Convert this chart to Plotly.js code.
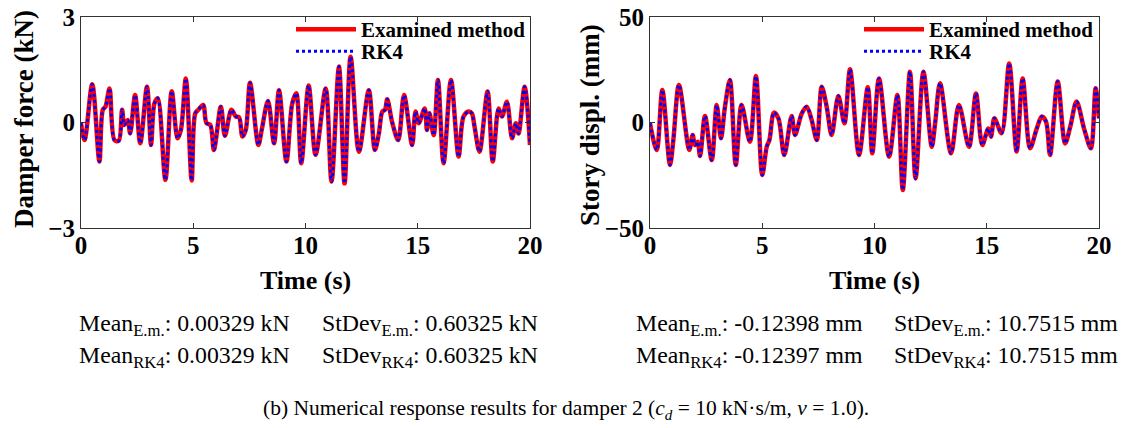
<!DOCTYPE html>
<html><head><meta charset="utf-8">
<script src="https://cdn.plot.ly/plotly-3.0.1.min.js"></script>
<style>body{margin:0;padding:0;background:#fff}#c{width:1131px;height:428px}</style>
</head><body><div id="c"></div>
<script>
// Damper force (kN) vs time (s)
const timeForce = [0,0.16,0.5,0.82,0.97,1.09,1.27,1.49,1.68,1.83,1.93,2.08,2.19,2.41,2.64,2.94,3.12,3.27,3.42,3.76,4.04,4.30,4.45,4.67,4.93,5.09,5.24,5.44,5.59,5.76,5.92,6.23,6.41,6.70,6.90,7.04,7.19,7.34,7.53,7.90,8.05,8.33,8.60,8.82,9.15,9.41,9.59,9.81,10.14,10.45,10.90,11.16,11.49,11.74,12.01,12.38,12.82,13.09,13.27,13.42,13.54,13.64,13.87,14.13,14.39,14.75,14.90,15.04,15.31,15.41,15.52,15.71,15.90,16.15,16.48,16.82,17.04,17.27,17.41,17.53,17.75,18.11,18.34,18.60,18.75,18.97,19.20,19.37,19.49,19.76,20.0];
const forceEM = [-0.02,-0.50,1.09,-1.11,0.36,0.45,0.97,-0.50,-0.52,0.36,-0.07,0.07,-0.31,0.78,-0.59,1.02,-0.64,0.54,0.69,-1.63,0.89,-0.45,-0.21,1.25,-1.65,0.26,0.37,0.50,-0.02,-0.07,-0.78,0.45,-0.38,0.36,0.17,0.15,-0.40,-0.21,1.13,-0.64,-0.21,0.61,-0.59,0.92,-1.11,0.54,0.83,-1.16,1.05,-0.92,0.97,-1.68,1.59,-1.73,1.87,-0.83,0.92,-0.78,-0.31,0.31,0.36,0.66,-0.02,-0.50,0.78,-0.64,0.31,-0.02,0.40,-0.21,0.26,-0.36,1.21,-1.16,1.21,-0.97,0.17,0.31,0.26,-0.12,-0.83,0.88,-1.11,0.40,0.17,0.59,-0.45,-0.02,-0.31,1.02,-0.64];
const forceRK4 = forceEM.slice();

// Story displacement (mm) vs time (s)
const timeDispl = [0,0.30,0.55,0.89,1.04,1.29,1.75,1.90,2.0,2.12,2.23,2.45,2.75,2.97,3.16,3.34,3.56,3.82,4.08,4.45,4.72,5.00,5.20,5.32,5.52,5.72,5.98,6.31,6.46,6.76,6.98,7.20,7.43,7.65,7.87,8.09,8.39,8.66,8.91,9.31,9.70,9.90,10.20,10.65,11.02,11.26,11.58,11.83,12.18,12.55,12.70,12.92,13.41,13.76,14.21,14.52,14.80,15.07,15.19,15.34,15.66,16.0,16.33,16.60,16.93,17.23,17.45,17.64,17.82,18.16,18.49,18.72,19.0,19.35,19.64,19.85,20.0];
const displEM = [-0.4,-13.0,15.4,-20.1,-8.3,17.8,-13.0,-5.9,-10.7,-9.1,-15.9,3.1,-17.8,8.3,-7.5,7.5,20.1,-20.1,8.3,-9.1,22.0,-24.9,-11.5,-8.3,4.7,2.0,-15.4,3.1,-5.9,4.3,7.5,1.2,-8.3,17.0,7.5,-5.9,12.6,-0.4,25.2,-15.4,16.7,-14.6,20.9,-16.2,13.0,-32.0,24.1,-26.5,24.1,-11.5,-0.4,18.6,-14.6,8.3,-11.5,13.8,-10.7,-2.8,-6.7,2.0,-5.1,28.0,-13.8,20.9,-12.2,-2.8,2.8,0.4,-15.4,19.4,-9.9,-2.0,9.9,-3.5,-12.2,16.2,2.0];
const displRK4 = displEM.slice();

const xTicks = [0,5,10,15,20];
const seriesNames = ['Examined method','RK4'];

const FONT = "'Liberation Serif'";
function red(x,y,xa,ya,lg){return {x:x,y:y,xaxis:xa,yaxis:ya,type:'scatter',mode:'lines',name:seriesNames[0],legend:lg,line:{color:'#ff0000',width:4.5,shape:'spline',smoothing:0.9}};}
function blue(x,y,xa,ya,lg){return {x:x,y:y,xaxis:xa,yaxis:ya,type:'scatter',mode:'lines',name:seriesNames[1],legend:lg,line:{color:'#0000ff',width:3,dash:'dot',shape:'spline',smoothing:0.9}};}

const data = [
  red(timeForce,forceEM,'x','y','legend'), blue(timeForce,forceRK4,'x','y','legend3'),
  red(timeDispl,displEM,'x2','y2','legend2'), blue(timeDispl,displRK4,'x2','y2','legend4')
];

const y0 = 1-228/428, y1 = 1-17/428;
function xax(d,anchor){return {domain:d,anchor:anchor,range:[0,20],tickvals:xTicks,ticks:'inside',ticklen:5,tickcolor:'#333',mirror:'ticks',showline:true,linecolor:'#333',linewidth:1,showgrid:false,zeroline:false,ticklabelstandoff:-5,tickfont:{family:FONT,size:25,color:'#000',weight:'bold'},automargin:false};}
function yax(r,tv,anchor){return {domain:[y0,y1],range:r,tickvals:tv,ticks:'inside',ticklen:5,tickcolor:'#333',mirror:'ticks',showline:true,linecolor:'#333',linewidth:1,showgrid:false,zeroline:false,anchor:anchor,tickfont:{family:FONT,size:25,color:'#000',weight:'bold'},automargin:false};}

function leg(x,ytop){return {x:x,y:1-ytop/428,xref:'paper',yref:'paper',xanchor:'left',yanchor:'top',bgcolor:'rgba(0,0,0,0)',borderwidth:0,itemwidth:60,font:{family:FONT,size:21,color:'#000',weight:'bold'}};}

const ann=[];
function txt(x,y,t,size,anchor,extra){ann.push(Object.assign({xref:'paper',yref:'paper',x:x/1131,y:1-y/428,text:t,showarrow:false,xanchor:anchor||'left',yanchor:'middle',font:{family:FONT,size:size||23.8,color:'#000'}},extra||{}));}
// axis titles
txt(305.5,280,'<b>Time (s)</b>',26,'center');
txt(874.5,280,'<b>Time (s)</b>',26,'center');
txt(24,119,'<b>Damper force (kN)</b>',27,'center',{textangle:-90});
txt(590,125,'<b>Story displ. (mm)</b>',27,'center',{textangle:-90});
// statistics
txt(77,325,'Mean<sub>E.m.</sub>: 0.00329 kN');
txt(320,325,'StDev<sub>E.m.</sub>: 0.60325 kN');
txt(77,357,'Mean<sub>RK4</sub>: 0.00329 kN');
txt(320,357,'StDev<sub>RK4</sub>: 0.60325 kN');
txt(634,325,'Mean<sub>E.m.</sub>: -0.12398 mm');
txt(892,325,'StDev<sub>E.m.</sub>: 10.7515 mm');
txt(634,357,'Mean<sub>RK4</sub>: -0.12397 mm');
txt(892,357,'StDev<sub>RK4</sub>: 10.7515 mm');
txt(566,409,'(b) Numerical response results for damper 2 (<i>c<sub>d</sub></i> = 10 kN·s/m, <i>v</i> = 1.0).',21.5,'center');

const layout = {
  width:1131,height:428,margin:{l:0,r:0,t:0,b:0},paper_bgcolor:'#fff',plot_bgcolor:'#fff',
  showlegend:true,font:{family:FONT},
  xaxis:xax([81/1131,530/1131],'y'), yaxis:yax([-3,3],[-3,0,3],'x'),
  xaxis2:xax([650/1131,1099/1131],'y2'), yaxis2:yax([-50,50],[-50,0,50],'x2'),
  legend:leg(291/1131,9), legend3:leg(291/1131,31),
  legend2:leg(859/1131,9), legend4:leg(859/1131,31),
  annotations:ann
};
Plotly.newPlot('c',data,layout,{staticPlot:true});
</script></body></html>
